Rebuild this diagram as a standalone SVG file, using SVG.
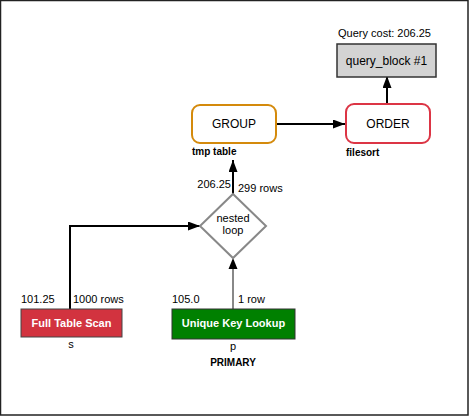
<svg xmlns="http://www.w3.org/2000/svg" width="469" height="416" viewBox="0 0 469 416">
<defs>
<marker id="ah" viewBox="0 0 12 9" refX="12" refY="4.5" markerWidth="12" markerHeight="9" markerUnits="userSpaceOnUse" orient="auto">
<path d="M0,0 L12,4.5 L0,9 z" fill="#000"/>
</marker>
<style>
text{font-family:"Liberation Sans",Arial,sans-serif;fill:#000}
.lbl{font-size:11px}
.b{font-size:10px;font-weight:bold}
.node{font-size:12px}
.w{font-size:11px;font-weight:bold;fill:#fff}
.c{stroke:#000;stroke-width:2;fill:none}
</style>
</defs>
<rect x="0.5" y="0.5" width="467.5" height="414.5" fill="#fff" stroke="#222" stroke-width="1.5"/>
<g id="connectors">
<path class="c" d="M387,103 L387,76" marker-end="url(#ah)"/>
<path class="c" d="M276,124 L345,124" marker-end="url(#ah)"/>
<path class="c" d="M233,194 L233,160" marker-end="url(#ah)"/>
<path class="c" d="M70,309 L70,226 L200,226" marker-end="url(#ah)"/>
<path d="M233,309 L233,269" stroke="#888" stroke-width="2" fill="none"/>
<path d="M228.5,269 L233,258 L237.5,269 z" fill="#000"/>
</g>
<g id="query_block">
<text class="lbl" x="338" y="37">Query cost: 206.25</text>
<rect x="337" y="44" width="99" height="33" fill="#d3d3d3" stroke="#333" stroke-width="1.5"/>
<text class="node" x="386.5" y="65" text-anchor="middle">query_block #1</text>
</g>
<g id="order">
<rect x="346" y="104" width="84" height="39" rx="8" fill="#fff" stroke="#dc3545" stroke-width="2"/>
<text class="node" x="388" y="128" text-anchor="middle">ORDER</text>
<text class="b" x="346" y="156">filesort</text>
</g>
<g id="group">
<rect x="192" y="105" width="84" height="38" rx="8" fill="#fff" stroke="#d48a0c" stroke-width="2"/>
<text class="node" x="234" y="128" text-anchor="middle">GROUP</text>
<text class="b" x="192" y="155">tmp table</text>
</g>
<g id="nested_loop">
<polygon points="233,194 266,226 233,258 200,226" fill="#fff" stroke="#888" stroke-width="2"/>
<text class="lbl" x="233" y="222" text-anchor="middle">nested</text>
<text class="lbl" x="233" y="234" text-anchor="middle">loop</text>
<text class="lbl" x="231" y="188" text-anchor="end">206.25</text>
<text class="lbl" x="238" y="192">299 rows</text>
</g>
<g id="full_table_scan">
<text class="lbl" x="21" y="303">101.25</text>
<text class="lbl" x="73" y="303">1000 rows</text>
<rect x="21" y="309" width="101" height="28" fill="#d2333f" stroke="#444" stroke-width="1"/>
<text class="w" x="71.5" y="327" text-anchor="middle">Full Table Scan</text>
<text class="lbl" x="71" y="348" text-anchor="middle">s</text>
</g>
<g id="unique_key_lookup">
<text class="lbl" x="172" y="303">105.0</text>
<text class="lbl" x="238" y="303">1 row</text>
<rect x="172" y="309" width="123" height="30" fill="#008000" stroke="#333" stroke-width="1"/>
<text class="w" x="233.5" y="327" text-anchor="middle">Unique Key Lookup</text>
<text class="lbl" x="233" y="350" text-anchor="middle">p</text>
<text class="b" x="233" y="366" text-anchor="middle">PRIMARY</text>
</g>
</svg>
